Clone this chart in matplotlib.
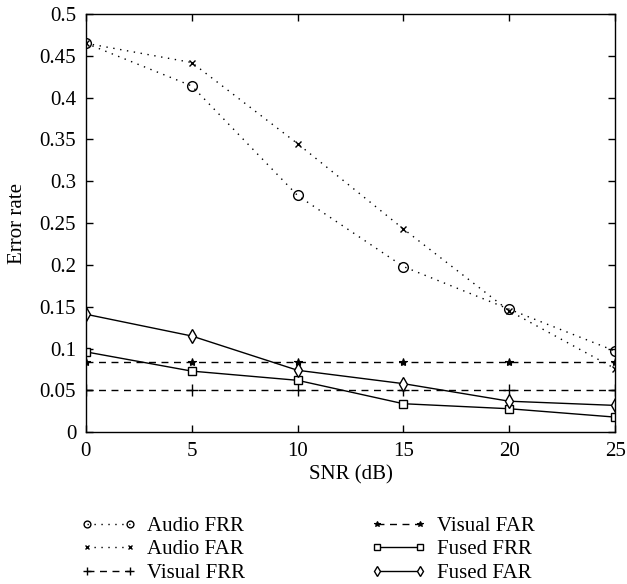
import matplotlib
matplotlib.use("Agg")
import matplotlib.pyplot as plt

snr = [0, 5, 10, 15, 20, 25]
audio_frr = [0.465, 0.414, 0.283, 0.198, 0.147, 0.097]
audio_far = [0.465, 0.442, 0.345, 0.243, 0.145, 0.076]
visual_frr = [0.051, 0.051, 0.051, 0.051, 0.051, 0.051]
visual_far = [0.084, 0.084, 0.084, 0.084, 0.084, 0.084]
fused_frr = [0.096, 0.073, 0.062, 0.034, 0.028, 0.018]
fused_far = [0.141, 0.115, 0.074, 0.058, 0.037, 0.032]

yticks = [0, 0.05, 0.1, 0.15, 0.2, 0.25, 0.3, 0.35, 0.4, 0.45, 0.5]
ytick_labels = ["0", "0.05", "0.1", "0.15", "0.2", "0.25", "0.3", "0.35", "0.4", "0.45", "0.5"]
xticks = [0, 5, 10, 15, 20, 25]

plt.rcParams['font.family'] = ['Liberation Serif', 'DejaVu Serif']
fs_tick = 15
fs = 15

fig = plt.figure(figsize=(6.27, 5.84), dpi=100)
ax = fig.add_axes([0.137, 0.260, 0.844, 0.716])

dot = (0, (1, 4))
dash = (0, (5, 4))
ax.plot(snr, audio_frr, color='black', lw=1, ls=dot, marker='o', ms=7, mfc='none', mew=1, label='Audio FRR')
ax.plot(snr, audio_far, color='black', lw=1, ls=dot, marker='x', ms=5, mew=1, label='Audio FAR')
ax.plot(snr, visual_frr, color='black', lw=1, ls=dash, marker='+', ms=8, mew=1, label='Visual FRR')
ax.plot(snr, visual_far, color='black', lw=1, ls=dash, marker='*', ms=6, mew=0.8, label='Visual FAR')
ax.plot(snr, fused_frr, color='black', lw=1, ls='-', marker='s', ms=6, mfc='white', mew=1, label='Fused FRR')
ax.plot(snr, fused_far, color='black', lw=1, ls='-', marker='d', ms=7.5, mfc='white', mew=1, label='Fused FAR')

ax.set_xlim(0, 25)
ax.set_ylim(0, 0.5)
ax.set_xticks(xticks)
ax.set_yticks(yticks)
ax.set_yticklabels(ytick_labels)
ax.tick_params(direction='in', top=True, right=True, length=5, width=1, labelsize=fs_tick, pad=7)
for s in ax.spines.values():
    s.set_linewidth(1)
ax.set_xlabel('SNR (dB)', fontsize=fs, labelpad=3)
ax.set_ylabel('Error rate', fontsize=fs, labelpad=9)

leg = fig.legend(loc='upper left', bbox_to_anchor=(0.099, 0.148), ncol=2, frameon=False,
                 numpoints=2, markerscale=0.7,
                 handlelength=2.67, columnspacing=6.0, labelspacing=0.19, handletextpad=0.53,
                 fontsize=fs)

fig.savefig('out.png', dpi=100)
